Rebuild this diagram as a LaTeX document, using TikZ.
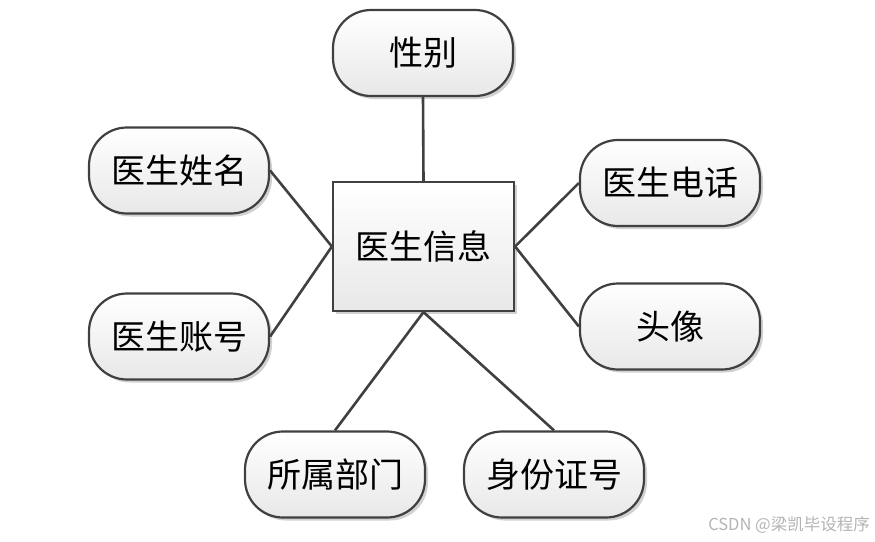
\documentclass[tikz,border=0pt]{standalone}
\usepackage{fontspec}
\setmainfont{Liberation Sans}
\newfontfamily\cjk{Noto Sans CJK SC}
\usetikzlibrary{shadows}
\definecolor{edgec}{HTML}{404040}
\definecolor{botc}{HTML}{E8E8E8}
\definecolor{wmc}{HTML}{B4B4B4}
\tikzset{
  base/.style={draw=edgec, line width=2.2pt, top color=white, bottom color=botc,
    drop shadow={shadow xshift=3pt, shadow yshift=-3pt, opacity=0.18, fill=black},
    font=\cjk\fontsize{34}{38}\selectfont, inner sep=0pt},
  attr/.style={base, rounded corners=38pt, minimum width=180pt, minimum height=86pt},
  ent/.style={base, rectangle, minimum width=181pt, minimum height=129pt},
  link/.style={draw=edgec, line width=2.6pt}
}
\begin{document}
\begin{tikzpicture}[x=1pt,y=-1pt]
\useasboundingbox (0,0) rectangle (875,541);
\node[ent] (c) at (423.5,246.5) {医生信息};
\node[attr] (xb) at (423,53) {性别};
\node[attr] (xm) at (179,170.5) {医生姓名};
\node[attr] (dh) at (670,183) {医生电话};
\node[attr] (zh) at (179,336.5) {医生账号};
\node[attr] (tx) at (670,326.5) {头像};
\node[attr] (bm) at (335,474.5) {所属部门};
\node[attr] (sf) at (554,474.5) {身份证号};
\draw[link] (xb.south) -- (c.north);
\draw[link] (xm.east) -- (c.west);
\draw[link] (zh.east) -- (c.west);
\draw[link] (dh.west) -- (c.east);
\draw[link] (tx.west) -- (c.east);
\draw[link] (bm.north) -- (c.south);
\draw[link] (sf.north) -- (c.south);
\node[anchor=east, text=wmc, font=\cjk\fontsize{16.5}{18}\selectfont, inner sep=0pt] (wm) at (870,525) {CSDN @梁凯毕设程序};
\end{tikzpicture}
\end{document}
